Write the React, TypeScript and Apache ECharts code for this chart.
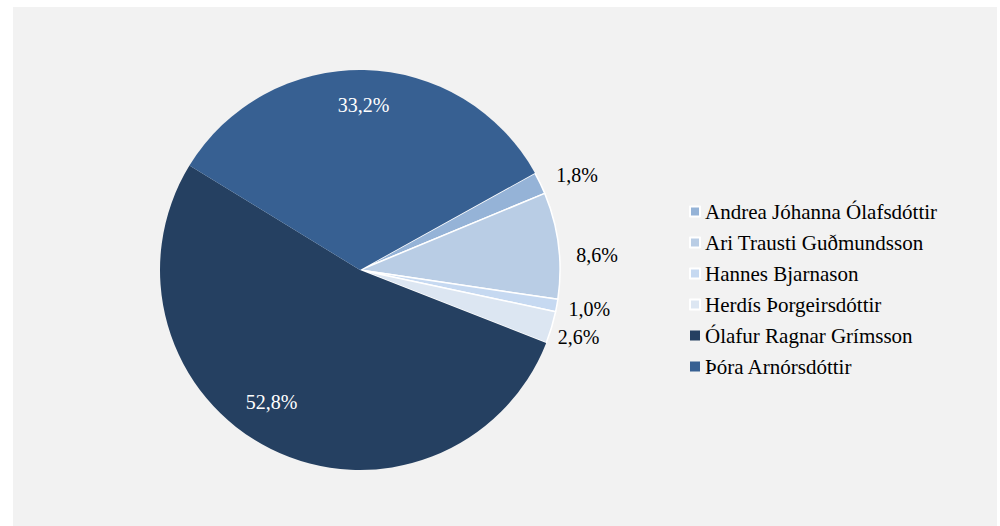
import React, { useEffect, useRef } from "react";
import * as echarts from "echarts";

const candidates = [
  "Andrea Jóhanna Ólafsdóttir",
  "Ari Trausti Guðmundsson",
  "Hannes Bjarnason",
  "Herdís Þorgeirsdóttir",
  "Ólafur Ragnar Grímsson",
  "Þóra Arnórsdóttir",
];
const shares = [1.8, 8.6, 1.0, 2.6, 52.8, 33.2];
const colors = ["#95b3d7", "#b9cde5", "#c6d9f1", "#dce6f2", "#254061", "#376092"];
const insideLabel = [false, false, false, false, true, true];
// small per-label nudges (vertical: px down, horizontal: px right) to mimic the original placement
const nudgeDown = [0, 12, 0, 4, -16, 0];
const nudgeRight = [0, 0, -6, -11, -15, 0];

const FONT = "'Liberation Serif', 'Times New Roman', serif";
const fmt = (v: number) => v.toFixed(1).replace(".", ",") + "%";

export default function App() {
  const ref = useRef<HTMLDivElement>(null);
  useEffect(() => {
    document.body.style.margin = "0";
    const chart = echarts.init(ref.current!, null, { renderer: "svg" });
    const labelFor = (i: number) => {
      const d = nudgeDown[i];
      const text = fmt(shares[i]);
      if (d > 0) return { formatter: "\n" + text, lineHeight: d * 2 };
      if (d < 0) return { formatter: text + "\n", lineHeight: -d * 2 };
      return { formatter: text };
    };
    const mainData = candidates.map((name, i) => ({
      name,
      value: shares[i],
      itemStyle: {
        color: colors[i],
        borderColor: "#ffffff",
        borderWidth: insideLabel[i] ? 0 : 1.5,
      },
      label: { show: !insideLabel[i], ...labelFor(i) },
      labelLine: { show: false, length: 18, length2: nudgeRight[i] },
    }));
    const labelData = candidates.map((name, i) => ({
      name,
      value: shares[i],
      label: {
        show: insideLabel[i],
        ...labelFor(i),
        padding: nudgeRight[i] < 0 ? [0, -nudgeRight[i] * 2, 0, 0] : 0,
      },
    }));
    chart.setOption({
      animation: false,
      backgroundColor: "#ffffff",
      graphic: [
        {
          type: "rect",
          z: -10,
          shape: { x: 13, y: 7, width: 984, height: 519 },
          style: { fill: "#f2f2f2" },
          silent: true,
        },
      ],
      legend: {
        orient: "vertical",
        left: 684,
        top: 196,
        itemWidth: 10,
        itemHeight: 10,
        itemGap: 10,
        icon: "rect",
        textStyle: { fontFamily: FONT, fontSize: 21, color: "#000000" },
        data: candidates.map((name, i) => ({ name, itemStyle: { color: colors[i] } })),
      },
      series: [
        {
          type: "pie",
          center: [360, 270],
          radius: [0, 200],
          startAngle: 29,
          clockwise: true,
          avoidLabelOverlap: false,
          data: mainData,
          label: {
            position: "outside",
            fontFamily: FONT,
            fontSize: 20,
            color: "#000000",
            distanceToLabelLine: 0,
          },
          labelLine: { show: false, length: 18, length2: 0 },
          labelLayout: { hideOverlap: false },
          emphasis: { disabled: true },
        },
        {
          type: "pie",
          center: [360, 270],
          radius: [124, 200],
          startAngle: 29,
          clockwise: true,
          silent: true,
          avoidLabelOverlap: false,
          data: labelData,
          itemStyle: { color: "rgba(0,0,0,0)", borderWidth: 0 },
          label: {
            position: "inside",
            fontFamily: FONT,
            fontSize: 20,
            color: "#ffffff",
          },
          labelLine: { show: false },
          emphasis: { disabled: true },
        },
      ],
    });
    return () => chart.dispose();
  }, []);
  return <div ref={ref} style={{ width: 1000, height: 526 }} />;
}
